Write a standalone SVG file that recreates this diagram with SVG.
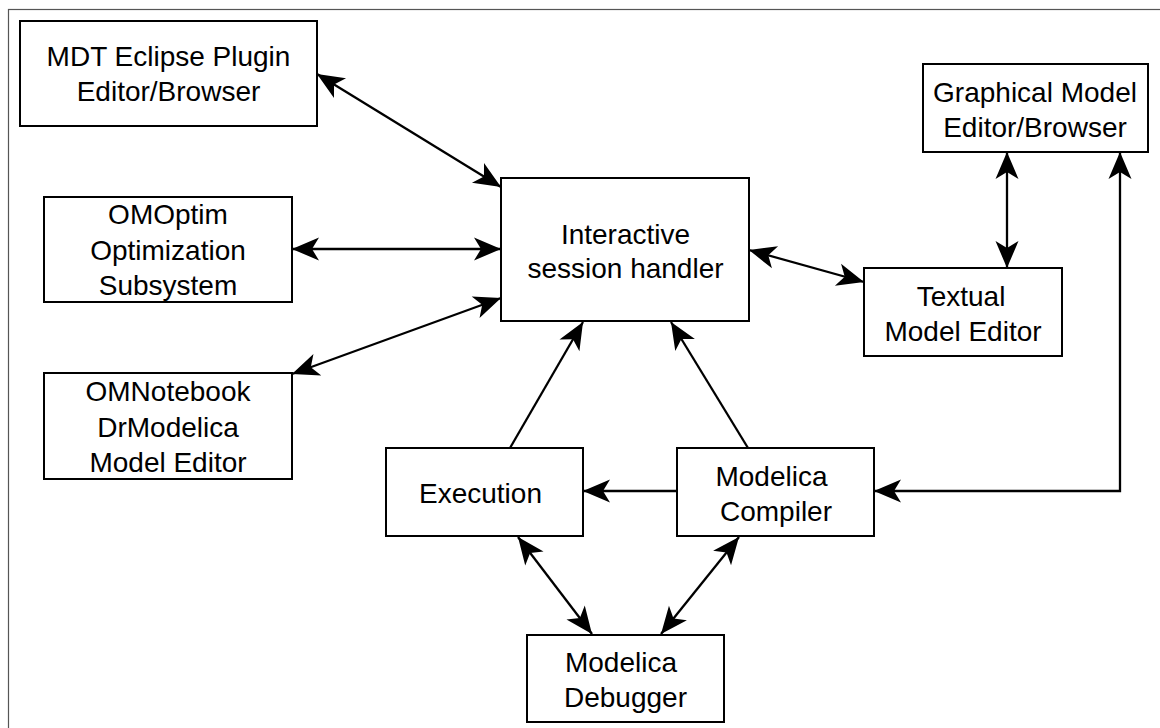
<svg xmlns="http://www.w3.org/2000/svg" width="1160" height="728" viewBox="0 0 1160 728">
<style>
.box{fill:#fff;stroke:#000;stroke-width:2}
.t{font-family:"Liberation Sans",Arial,sans-serif;font-size:28px;fill:#000;text-anchor:middle}
.c{fill:none;stroke:#000;stroke-width:2.3}
.a2{marker-start:url(#ah);marker-end:url(#ah)}
.a1{marker-end:url(#ah)}
</style>
<defs>
<marker id="ah" markerUnits="userSpaceOnUse" markerWidth="30" markerHeight="26" viewBox="-28 -13 30 26" refX="0" refY="0" orient="auto-start-reverse">
<path d="M0,0 L-27,-11.5 L-20,0 L-27,11.5 Z" fill="#000"/>
</marker>
</defs>
<rect width="1160" height="728" fill="#fff"/>
<rect x="8.5" y="9.5" width="1160" height="730" fill="none" stroke="#555" stroke-width="1.2"/>

<g id="connectors">
<line class="c a2" x1="317" y1="74" x2="501" y2="187"/>
<line class="c a2" x1="292" y1="249" x2="501" y2="249"/>
<line class="c a2" x1="292" y1="374" x2="501" y2="298"/>
<line class="c a2" x1="749" y1="250" x2="864" y2="282"/>
<line class="c a2" x1="1007" y1="152" x2="1007" y2="268"/>
<path class="c a2" d="M1120,152 L1120,491 L874,491"/>
<line class="c a1" x1="677" y1="491" x2="583" y2="491"/>
<line class="c a1" x1="510" y1="448" x2="583" y2="322"/>
<line class="c a1" x1="748" y1="448" x2="671" y2="322"/>
<line class="c a2" x1="518" y1="537" x2="592" y2="634"/>
<line class="c a2" x1="739" y1="537" x2="661" y2="634"/>
</g>

<g id="mdt">
<rect class="box" x="20" y="21" width="297" height="105"/>
<text class="t" x="168.5" y="66">MDT Eclipse Plugin</text>
<text class="t" x="168.5" y="101">Editor/Browser</text>
</g>
<g id="omoptim">
<rect class="box" x="44" y="197" width="248" height="105"/>
<text class="t" x="168" y="224">OMOptim</text>
<text class="t" x="168" y="259.5">Optimization</text>
<text class="t" x="168" y="295">Subsystem</text>
</g>
<g id="omnotebook">
<rect class="box" x="44" y="373" width="248" height="106"/>
<text class="t" x="168" y="401">OMNotebook</text>
<text class="t" x="168" y="436.5">DrModelica</text>
<text class="t" x="168" y="472">Model Editor</text>
</g>
<g id="interactive">
<rect class="box" x="501" y="178" width="248" height="143"/>
<text class="t" x="625.5" y="244">Interactive</text>
<text class="t" x="625.5" y="278">session handler</text>
</g>
<g id="graphical">
<rect class="box" x="923" y="64" width="225" height="88"/>
<text class="t" x="1035" y="102">Graphical Model</text>
<text class="t" x="1035" y="137">Editor/Browser</text>
</g>
<g id="textual">
<rect class="box" x="864" y="268" width="198" height="88"/>
<text class="t" x="961" y="305.5">Textual</text>
<text class="t" x="963" y="340.5">Model Editor</text>
</g>
<g id="execution">
<rect class="box" x="386" y="448" width="197" height="88"/>
<text class="t" x="480.5" y="503">Execution</text>
</g>
<g id="compiler">
<rect class="box" x="677" y="448" width="197" height="88"/>
<text class="t" x="771.5" y="485.5">Modelica</text>
<text class="t" x="776" y="520.5">Compiler</text>
</g>
<g id="debugger">
<rect class="box" x="527" y="635" width="197" height="87"/>
<text class="t" x="621" y="672">Modelica</text>
<text class="t" x="625.5" y="707">Debugger</text>
</g>
</svg>
